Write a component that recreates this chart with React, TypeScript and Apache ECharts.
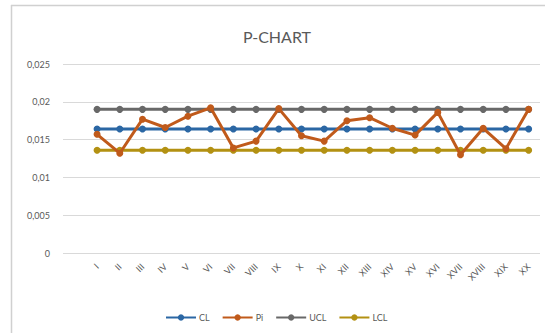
import React, { useEffect, useRef } from "react";
import * as echarts from "echarts";

const categories = ["I","II","III","IV","V","VI","VII","VIII","IX","X","XI","XII","XIII","XIV","XV","XVI","XVII","XVIII","XIX","XX"];
const clValues = [0.0164,0.0164,0.0164,0.0164,0.0164,0.0164,0.0164,0.0164,0.0164,0.0164,0.0164,0.0164,0.0164,0.0164,0.0164,0.0164,0.0164,0.0164,0.0164,0.0164];
const piValues = [0.0157,0.0132,0.0177,0.0166,0.0181,0.0192,0.0139,0.0148,0.0191,0.0155,0.0148,0.0175,0.0179,0.0165,0.0156,0.0186,0.0130,0.0165,0.0138,0.0190];
const uclValues = [0.019,0.019,0.019,0.019,0.019,0.019,0.019,0.019,0.019,0.019,0.019,0.019,0.019,0.019,0.019,0.019,0.019,0.019,0.019,0.019];
const lclValues = [0.0136,0.0136,0.0136,0.0136,0.0136,0.0136,0.0136,0.0136,0.0136,0.0136,0.0136,0.0136,0.0136,0.0136,0.0136,0.0136,0.0136,0.0136,0.0136,0.0136];
const yTicks = { min: 0, max: 0.025, interval: 0.005 };

export default function App() {
  const ref = useRef<HTMLDivElement>(null);
  useEffect(() => {
    if (!ref.current) return;
    const chart = echarts.init(ref.current, null, { renderer: "svg" });
    const font = "Lato, 'Open Sans', sans-serif";
    const mk = (name: string, data: number[], color: string, z: number) => ({
      name,
      type: "line",
      data: [null, ...data],
      symbol: "circle",
      symbolSize: 7,
      z,
      lineStyle: { width: 3, color },
      itemStyle: { color },
    });
    chart.setOption({
      animation: false,
      backgroundColor: "#ffffff",
      textStyle: { fontFamily: font },
      title: {
        text: "P-CHART",
        left: 272,
        top: 23,
        textAlign: "center",
        textStyle: { fontSize: 16, fontWeight: "normal", color: "#595959", fontFamily: font },
      },
      graphic: [
        { type: "line", shape: { x1: 11.5, y1: 5, x2: 11.5, y2: 333 }, style: { stroke: "#d0d0d0", lineWidth: 1.5 } },
        { type: "line", shape: { x1: 11, y1: 5.5, x2: 545, y2: 5.5 }, style: { stroke: "#d0d0d0", lineWidth: 1.5 } },
      ],
      legend: {
        left: 160,
        top: 308,
        itemWidth: 30,
        itemHeight: 8,
        itemGap: 12,
        textStyle: { fontSize: 9, color: "#595959", fontFamily: font, padding: [0, 0, 0, -2] },
        data: ["CL", "Pi", "UCL", "LCL"],
      },
      grid: { left: 63, right: 5, top: 64, bottom: 80, containLabel: false },
      xAxis: {
        type: "category",
        boundaryGap: true,
        data: ["", ...categories],
        axisLine: { show: false },
        axisTick: { show: false },
        axisLabel: { rotate: 45, fontSize: 9, color: "#595959", margin: 12, interval: 0, fontFamily: font },
      },
      yAxis: {
        type: "value",
        min: yTicks.min,
        max: yTicks.max,
        interval: yTicks.interval,
        axisLine: { show: false },
        axisTick: { show: false },
        splitLine: { lineStyle: { color: "#d9d9d9", width: 1 } },
        axisLabel: {
          fontSize: 9,
          color: "#595959",
          margin: 13,
          fontFamily: font,
          formatter: (v: number) => String(v).replace(".", ","),
        },
      },
      series: [
        mk("CL", clValues, "#2B67A4", 2),
        mk("Pi", piValues, "#C05A1B", 5),
        mk("UCL", uclValues, "#686868", 3),
        mk("LCL", lclValues, "#B39112", 4),
      ],
    });
    return () => chart.dispose();
  }, []);
  return <div ref={ref} style={{ position: "fixed", left: 0, top: 0, width: 545, height: 333 }} />;
}
